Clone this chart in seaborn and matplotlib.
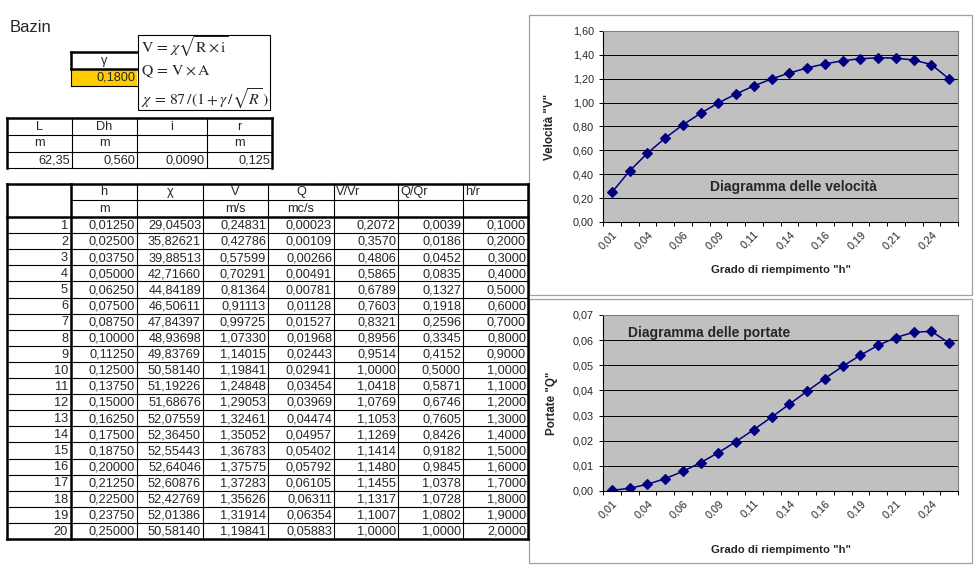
import numpy as np
import pandas as pd
import matplotlib
matplotlib.use("Agg")
import matplotlib.pyplot as plt
import seaborn as sns
from matplotlib.ticker import FuncFormatter, MultipleLocator
from matplotlib.patches import Rectangle

# ---------------- data ----------------
gamma = 0.1800
params_names = ["L", "Dh", "i", "r"]
params_units = ["m", "m", "", "m"]
params_values = ["62,35", "0,560", "0,0090", "0,125"]

row_idx = [1, 2, 3, 4, 5, 6, 7, 8, 9, 10, 11, 12, 13, 14, 15, 16, 17, 18, 19, 20]
h = [0.01250, 0.02500, 0.03750, 0.05000, 0.06250, 0.07500, 0.08750, 0.10000, 0.11250, 0.12500,
     0.13750, 0.15000, 0.16250, 0.17500, 0.18750, 0.20000, 0.21250, 0.22500, 0.23750, 0.25000]
chi = [29.04503, 35.82621, 39.88513, 42.71660, 44.84189, 46.50611, 47.84397, 48.93698, 49.83769, 50.58140,
       51.19226, 51.68676, 52.07559, 52.36450, 52.55443, 52.64046, 52.60876, 52.42769, 52.01386, 50.58140]
V = [0.24831, 0.42786, 0.57599, 0.70291, 0.81364, 0.91113, 0.99725, 1.07330, 1.14015, 1.19841,
     1.24848, 1.29053, 1.32461, 1.35052, 1.36783, 1.37575, 1.37283, 1.35626, 1.31914, 1.19841]
Q = [0.00023, 0.00109, 0.00266, 0.00491, 0.00781, 0.01128, 0.01527, 0.01968, 0.02443, 0.02941,
     0.03454, 0.03969, 0.04474, 0.04957, 0.05402, 0.05792, 0.06105, 0.06311, 0.06354, 0.05883]
VVr = [0.2072, 0.3570, 0.4806, 0.5865, 0.6789, 0.7603, 0.8321, 0.8956, 0.9514, 1.0000,
       1.0418, 1.0769, 1.1053, 1.1269, 1.1414, 1.1480, 1.1455, 1.1317, 1.1007, 1.0000]
QQr = [0.0039, 0.0186, 0.0452, 0.0835, 0.1327, 0.1918, 0.2596, 0.3345, 0.4152, 0.5000,
       0.5871, 0.6746, 0.7605, 0.8426, 0.9182, 0.9845, 1.0378, 1.0728, 1.0802, 1.0000]
hr = [0.1, 0.2, 0.3, 0.4, 0.5, 0.6, 0.7, 0.8, 0.9, 1.0,
      1.1, 1.2, 1.3, 1.4, 1.5, 1.6, 1.7, 1.8, 1.9, 2.0]

header1 = ["", "h", "χ", "V", "Q", "V/Vr", "Q/Qr", "h/r"]
header2 = ["", "m", "", "m/s", "mc/s", "", "", ""]
x_tick_labels = ["0,01", "0,04", "0,06", "0,09", "0,11", "0,14", "0,16", "0,19", "0,21", "0,24"]


def fmt(v, d):
    return f"{v:.{d}f}".replace(".", ",")


# ---------------- style ----------------
sns.set_style("white")
plt.rcParams['font.family'] = ['Liberation Sans', 'DejaVu Sans']
plt.rcParams['mathtext.fontset'] = 'stix'

fig = plt.figure(figsize=(9.8, 5.74), dpi=100)
fig.patch.set_facecolor("white")

bg = fig.add_axes([0, 0, 1, 1])
bg.set_xlim(0, 980)
bg.set_ylim(574, 0)
bg.axis("off")

THIN = 0.8
THICK = 1.8
TFS = 9.2


def hl(y, x0, x1, lw=THIN, c="black"):
    bg.plot([x0, x1], [y, y], color=c, lw=lw, solid_capstyle="projecting")


def vl(x, y0, y1, lw=THIN, c="black"):
    bg.plot([x, x], [y0, y1], color=c, lw=lw, solid_capstyle="projecting")


# Title
bg.text(10, 27, "Bazin", fontsize=12, va="center", ha="left")

# gamma cell
bg.add_patch(Rectangle((71, 69), 66, 17, facecolor="#FFCC00", edgecolor="none"))
hl(52, 71, 137, THICK)
hl(69, 71, 137, THICK)
hl(86, 71, 137, THIN)
vl(71, 52, 69, THICK)
vl(71, 69, 86, THIN)
bg.text(104, 61, "γ", fontsize=TFS, ha="center", va="center")
bg.text(135, 78, fmt(gamma, 4), fontsize=TFS, ha="right", va="center")

# formula box
bg.add_patch(Rectangle((138, 35), 132, 75, facecolor="white", edgecolor="black", lw=THIN))
bg.text(141, 47, r"$\mathrm{V}\,=\,\chi\sqrt{\mathrm{R}\times\mathrm{i}}$", fontsize=11.3, ha="left", va="center")
bg.text(141, 72, r"$\mathrm{Q}\,=\,\mathrm{V}\times\mathrm{A}$", fontsize=11.3, ha="left", va="center")
bg.text(141, 99, r"$\chi\,=\,87\,/(1+\gamma\,/\sqrt{R}\,)$", fontsize=11.3, ha="left", va="center")

# parameter table
pc = [7, 72, 137, 207, 272]
pr = [118, 135, 152, 168]
hl(pr[0], pc[0], pc[-1], THICK)
hl(pr[1], pc[0], pc[-1], THIN)
hl(pr[2], pc[0], pc[-1], THIN)
hl(pr[3], pc[0], pc[-1], THIN)
vl(pc[0], pr[0], pr[3], THICK)
vl(pc[-1], pr[0], pr[3], THICK)
for x in pc[1:-1]:
    vl(x, pr[0], pr[3], THIN)
for j in range(4):
    cx = (pc[j] + pc[j + 1]) / 2
    bg.text(cx, (pr[0] + pr[1]) / 2, params_names[j], fontsize=TFS, ha="center", va="center")
    bg.text(cx, (pr[1] + pr[2]) / 2, params_units[j], fontsize=TFS, ha="center", va="center")
    bg.text(pc[j + 1] - 2, (pr[2] + pr[3]) / 2 + 0.5, params_values[j], fontsize=TFS, ha="right", va="center")

# main table
cols = [7, 71, 137, 203, 268, 334, 398, 463, 528]
top, hmid, hbot, rh = 184, 200, 217, 16.1
n = len(row_idx)
bottom = hbot + n * rh
for k in range(1, n):
    hl(hbot + k * rh, cols[0], cols[-1], THIN)
hl(hmid, cols[1], cols[-1], THIN)
for x in cols[2:-1]:
    vl(x, top, bottom, THIN)
hl(top, cols[0], cols[-1], THICK)
hl(hbot, cols[0], cols[-1], THICK)
hl(bottom, cols[0], cols[-1], THICK)
vl(cols[0], top, bottom, THICK)
vl(cols[1], top, bottom, THICK)
vl(cols[-1], top, bottom, THICK)

for j in range(1, 8):
    if j <= 4:
        bg.text((cols[j] + cols[j + 1]) / 2, (top + hmid) / 2, header1[j], fontsize=TFS, ha="center", va="center")
        bg.text((cols[j] + cols[j + 1]) / 2, (hmid + hbot) / 2, header2[j], fontsize=TFS, ha="center", va="center")
    else:
        bg.text(cols[j] + 2, (top + hmid) / 2, header1[j], fontsize=TFS, ha="left", va="center")

columns = [(h, 5), (chi, 5), (V, 5), (Q, 5), (VVr, 4), (QQr, 4), (hr, 4)]
for i in range(n):
    cy = hbot + (i + 0.5) * rh + 0.8
    bg.text(cols[1] - 3, cy, str(row_idx[i]), fontsize=TFS, ha="right", va="center")
    for j, (arr, d) in enumerate(columns):
        bg.text(cols[j + 2] - 2, cy, fmt(arr[i], d), fontsize=TFS, ha="right", va="center")

# chart frames
bg.add_patch(Rectangle((529, 15), 443, 280, facecolor="white", edgecolor="#A0A0A0", lw=0.9))
bg.add_patch(Rectangle((529, 299), 443, 264, facecolor="white", edgecolor="#A0A0A0", lw=0.9))

# ---------------- charts ----------------
W, H = 980.0, 574.0


def chart(px, yvals, ylim, ystep, ydec, ylabel, title, title_xy, title_ha, xlab_y, ylab_x):
    x0, y0, x1, y1 = px
    ax = fig.add_axes([x0 / W, 1 - y1 / H, (x1 - x0) / W, (y1 - y0) / H])
    df = pd.DataFrame({"h": [fmt(v, 4) for v in h], "val": yvals})
    sns.pointplot(data=df, x="h", y="val", ax=ax, color="#000080", markers="D",
                  linestyles="-", markersize=5.0, linewidth=1.1, errorbar=None)
    ax.set_facecolor("#C0C0C0")
    ax.set_xlim(-0.5, n - 0.5)
    ax.set_ylim(*ylim)
    ax.yaxis.set_major_locator(MultipleLocator(ystep))
    ax.yaxis.set_major_formatter(FuncFormatter(lambda v, p: fmt(v, ydec)))
    ax.grid(axis="y", color="black", lw=0.7)
    ax.grid(axis="x", visible=False)
    ax.set_axisbelow(True)
    ax.set_xticks(range(0, n, 2))
    ax.set_xticklabels(x_tick_labels, rotation=45, ha="right", rotation_mode="anchor")
    ax.set_xticks(np.arange(-0.5, n, 1), minor=True)
    ax.tick_params(axis="x", which="major", bottom=True, length=0, pad=5, labelsize=7.8)
    ax.tick_params(axis="x", which="minor", bottom=True, length=3, width=0.7, direction="out", color="black")
    ax.tick_params(axis="y", left=True, length=3, width=0.7, direction="out", color="black", pad=3.5, labelsize=7.8)
    for s in ["left", "bottom"]:
        ax.spines[s].set_color("black")
        ax.spines[s].set_linewidth(0.8)
    for s in ["top", "right"]:
        ax.spines[s].set_color("#808080")
        ax.spines[s].set_linewidth(0.8)
    ax.set_xlabel('Grado di riempimento "h"', fontsize=8.2, fontweight="bold")
    ax.set_ylabel(ylabel, fontsize=8.4, fontweight="bold")
    ax.xaxis.label.set_verticalalignment("center")
    ax.yaxis.label.set_verticalalignment("center")
    ax.xaxis.set_label_coords(0.5, (y1 - xlab_y) / (y1 - y0))
    ax.yaxis.set_label_coords((ylab_x - x0) / (x1 - x0), 0.5)
    tx, ty = title_xy
    ax.text((tx - x0) / (x1 - x0), (y1 - ty) / (y1 - y0), title, transform=ax.transAxes,
            fontsize=10, fontweight="bold", ha=title_ha, va="center")
    return ax


chart((603, 31, 958, 222), V, (0, 1.6), 0.2, 2, 'Velocità "V"',
      "Diagramma delle velocità", (793, 187), "center", 270, 550)
chart((603, 315, 958, 491), Q, (0, 0.07), 0.01, 2, 'Portate "Q"',
      "Diagramma delle portate", (628, 333), "left", 550, 552)

fig.savefig("out.png", dpi=100, facecolor="white")
